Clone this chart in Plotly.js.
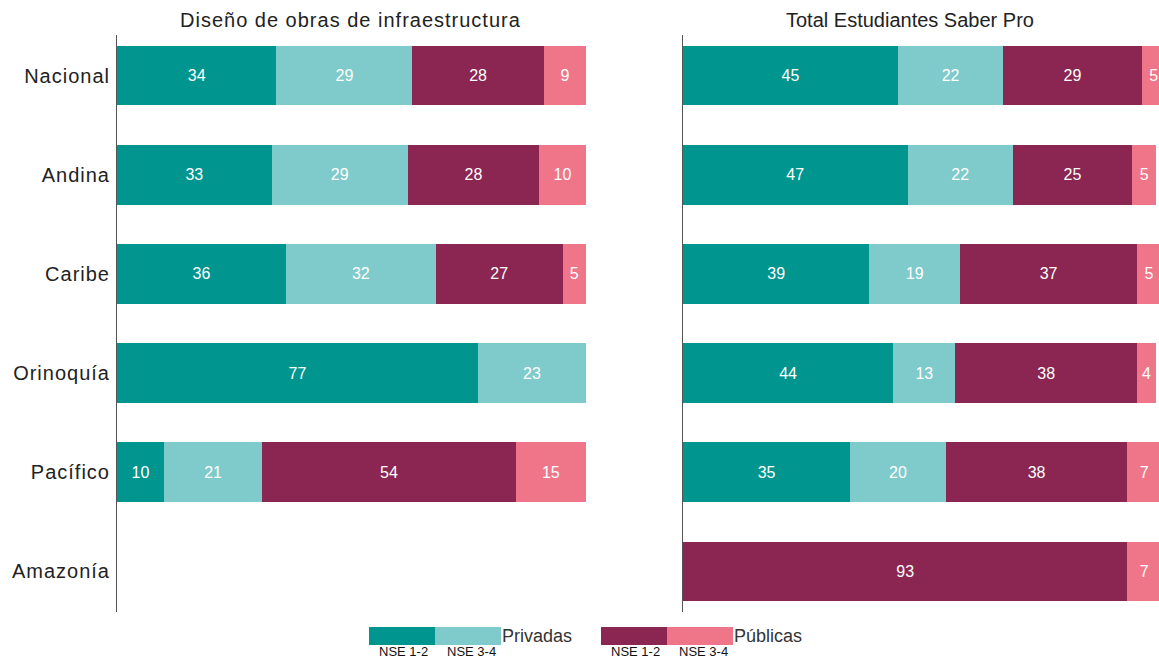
<!DOCTYPE html>
<html>
<head>
<meta charset="utf-8">
<script src="https://cdn.plot.ly/plotly-3.0.1.min.js"></script>
<style>
html,body{margin:0;padding:0;background:#fff;}
#chart{width:1159px;height:660px;}
#chart .yaxislayer-above .ytick text{letter-spacing:1px;}
#chart g.annotation[data-index="0"] text{letter-spacing:1px;}
</style>
</head>
<body>
<div id="chart"></div>
<script>
const categories = ["Nacional", "Andina", "Caribe", "Orinoquía", "Pacífico", "Amazonía"];
const seriesNames = ["Privadas NSE 1-2", "Privadas NSE 3-4", "Públicas NSE 1-2", "Públicas NSE 3-4"];
const colors = ["#00968f", "#7fcaca", "#8a2651", "#ef7589"];

// Diseño de obras de infraestructura
const disenoPrivNse12 = [34, 33, 36, 77, 10, null];
const disenoPrivNse34 = [29, 29, 32, 23, 21, null];
const disenoPubNse12  = [28, 28, 27, null, 54, null];
const disenoPubNse34  = [9, 10, 5, null, 15, null];

// Total Estudiantes Saber Pro
const totalPrivNse12 = [45, 47, 39, 44, 35, null];
const totalPrivNse34 = [22, 22, 19, 13, 20, null];
const totalPubNse12  = [29, 25, 37, 38, 38, 93];
const totalPubNse34  = [5, 5, 5, 4, 7, 7];

const titleLeft = "Diseño de obras de infraestructura";
const titleRight = "Total Estudiantes Saber Pro";
const legendGroups = ["Privadas", "Públicas"];
const legendSub = ["NSE 1-2", "NSE 3-4"];

const W = 1159, H = 660, ML = 117, MR = 0, MT = 35, MB = 48;
const PW = W - ML - MR, PH = H - MT - MB;
const X = px => (px - ML) / PW;
const Y = py => (H - MB - py) / PH;

function mk(vals, i, xa, ya) {
  return {
    type: "bar", orientation: "h", y: categories, x: vals,
    name: seriesNames[i], xaxis: xa, yaxis: ya,
    marker: {color: colors[i], line: {width: 0}},
    text: vals.map(v => v == null ? "" : String(v)),
    textposition: "inside", insidetextanchor: "middle",
    textfont: {color: "#ffffff", size: 16, family: "Liberation Sans, Arial, sans-serif"},
    hoverinfo: "x+y+name", showlegend: false, cliponaxis: true
  };
}

const data = [
  mk(disenoPrivNse12, 0, "x", "y"), mk(disenoPrivNse34, 1, "x", "y"),
  mk(disenoPubNse12, 2, "x", "y"), mk(disenoPubNse34, 3, "x", "y"),
  mk(totalPrivNse12, 0, "x2", "y2"), mk(totalPrivNse34, 1, "x2", "y2"),
  mk(totalPubNse12, 2, "x2", "y2"), mk(totalPubNse34, 3, "x2", "y2")
];

const xbase = {showgrid: false, zeroline: false, showline: false, showticklabels: false, ticks: ""};
const ybase = {type: "category", categoryorder: "array", categoryarray: categories,
  range: [5.41, -0.41], showgrid: false, zeroline: false, showline: true, linecolor: "#555", linewidth: 1, ticks: ""};

const shapes = [];
const annotations = [];
const font = "Liberation Sans, Arial, sans-serif";

annotations.push({text: titleLeft, xref: "paper", yref: "paper", x: X(351), y: Y(20), xanchor: "center", yanchor: "middle", showarrow: false, font: {size: 20, color: "#222", family: font}});
annotations.push({text: titleRight, xref: "paper", yref: "paper", x: X(910), y: Y(20), xanchor: "center", yanchor: "middle", showarrow: false, font: {size: 20, color: "#222", family: font}});

// legend (custom)
const legStarts = [369, 601];
legStarts.forEach((x0, g) => {
  for (let k = 0; k < 2; k++) {
    const xa = x0 + k * 66, xb = xa + 66;
    shapes.push({type: "rect", xref: "paper", yref: "paper", x0: X(xa), x1: X(xb), y0: Y(645), y1: Y(627), fillcolor: colors[g * 2 + k], line: {width: 0}});
    annotations.push({text: legendSub[k], xref: "paper", yref: "paper", x: X(xa + 33 + (k === 0 ? 1 : 3)), y: Y(651), xanchor: "center", yanchor: "middle", showarrow: false, font: {size: 13, color: "#111", family: font}});
  }
  annotations.push({text: legendGroups[g], xref: "paper", yref: "paper", x: X(x0 + 131), y: Y(636), xanchor: "left", yanchor: "middle", showarrow: false, font: {size: 18, color: "#333", family: font}});
});

const layout = {
  width: W, height: H,
  margin: {l: ML, r: MR, t: MT, b: MB, pad: 0},
  paper_bgcolor: "#fff", plot_bgcolor: "#fff",
  barmode: "stack", bargap: 0.4, showlegend: false,
  font: {family: font, color: "#222"},
  xaxis: Object.assign({}, xbase, {domain: [0, X(586)], anchor: "y", range: [0, 100]}),
  xaxis2: Object.assign({}, xbase, {domain: [X(683), 1], anchor: "y2", range: [0, 99.6]}),
  yaxis: Object.assign({}, ybase, {anchor: "x", showticklabels: true, tickfont: {size: 20, color: "#222", family: font}, ticklabelstandoff: 2}),
  yaxis2: Object.assign({}, ybase, {anchor: "x2", showticklabels: false}),
  shapes: shapes, annotations: annotations
};

Plotly.newPlot("chart", data, layout, {displayModeBar: false, staticPlot: true});
</script>
</body>
</html>
